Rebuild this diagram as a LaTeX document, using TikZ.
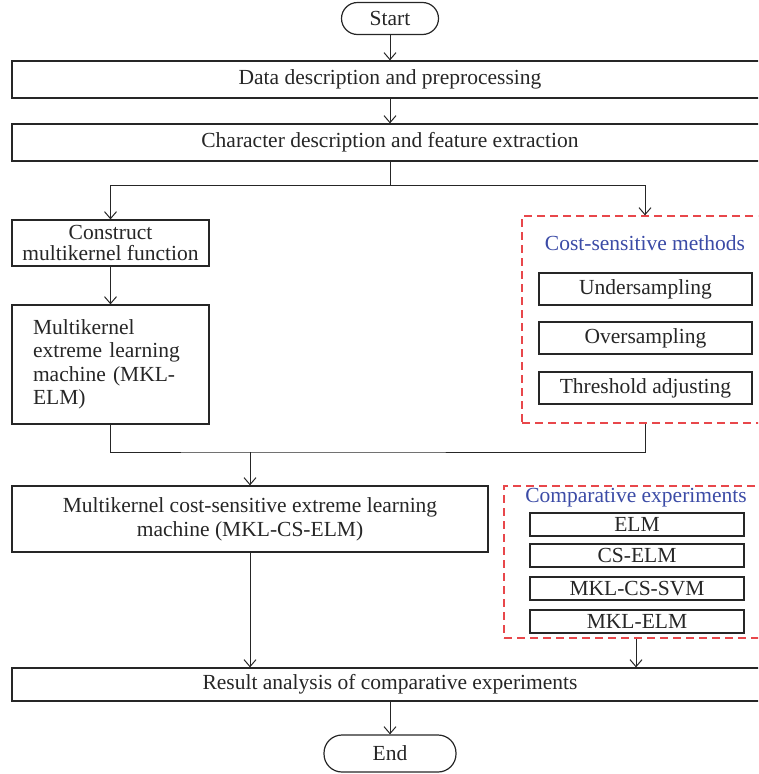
\documentclass[tikz,border=0pt]{standalone}
\usepackage{fontspec}
\setmainfont{Liberation Serif}
\usetikzlibrary{arrows.meta}
\definecolor{lc}{HTML}{262626}
\definecolor{dred}{HTML}{E8474B}
\definecolor{tblue}{HTML}{3B4BA6}
\begin{document}
\begin{tikzpicture}[x=1pt,y=-1pt,
  every node/.style={font=\fontsize{21.5}{23.5}\selectfont, text=lc, inner sep=0pt},
  box/.style={draw=lc, line width=1.2pt, rectangle},
  pill/.style={box, rounded corners=16pt},
  dbox/.style={draw=dred, dash pattern=on 8pt off 5pt, line width=1.2pt, rectangle},
  ttl/.style={text=tblue},
  arr/.style={draw=lc, line width=1pt, -{Straight Barb[length=7pt,width=12pt]}},
  ln/.style={draw=lc, line width=1pt}]
\useasboundingbox (0,0) rectangle (758,774);
\clip (0,0) rectangle (758,774);

\node[pill, minimum width=97pt, minimum height=32pt] (start) at (390,18.5) {Start};
\node[box, minimum width=756pt, minimum height=37pt] (data) at (390,79.5) {Data description and preprocessing};
\node[box, minimum width=756pt, minimum height=37pt] (char) at (390,142.5) {Character description and feature extraction};

\node[box, minimum width=197pt, minimum height=46pt, align=center, font=\fontsize{21.5}{21}\selectfont] (construct) at (110.5,243) {Construct\\multikernel function};
\node[box, minimum width=197pt, minimum height=119pt, text width=155pt, align=left] (mklelm) at (110.5,364.5) {Multikernel\\extreme learning\\machine (MKL-\\ELM)};

\node[dbox, minimum width=246pt, minimum height=207pt] (cs) at (645,319.5) {};
\node[ttl] (cstitle) at (645,243) {Cost-sensitive methods};
\node[box, minimum width=213pt, minimum height=32pt] (under) at (645.5,289) {Undersampling};
\node[box, minimum width=213pt, minimum height=32pt] (over) at (645.5,338) {Oversampling};
\node[box, minimum width=213pt, minimum height=32pt] (thresh) at (645.5,388) {Threshold adjusting};

\node[box, minimum width=476pt, minimum height=66pt, align=center, font=\fontsize{21.5}{24}\selectfont] (mklcs) at (250,519) {Multikernel cost-sensitive extreme learning\\machine (MKL-CS-ELM)};

\node[dbox, minimum width=264pt, minimum height=152pt] (cmp) at (636,562) {};
\node[ttl] (cmptitle) at (636,498) {Comparative experiments};
\node[box, minimum width=214pt, minimum height=23pt] (elm) at (637,524.5) {ELM};
\node[box, minimum width=214pt, minimum height=23pt] (cselm) at (637,555.5) {CS-ELM};
\node[box, minimum width=214pt, minimum height=23pt] (svm) at (637,588.5) {MKL-CS-SVM};
\node[box, minimum width=214pt, minimum height=23pt] (mklelmb) at (637,621.5) {MKL-ELM};

\node[box, minimum width=756pt, minimum height=33pt] (result) at (390,684.5) {Result analysis of comparative experiments};
\node[pill, rounded corners=18pt, minimum width=132pt, minimum height=37pt] (end) at (390,753.5) {End};

\coordinate (split) at (390,185);
\coordinate (join) at (250,452);

\draw[arr] (start) -- (data);
\draw[arr] (data) -- (char);
\draw[ln] (char.south) -- (split);
\draw[arr] (split) -| (construct.north);
\draw[arr] (split) -| (cs.north);
\draw[arr] (construct) -- (mklelm);
\draw[ln] (mklelm.south) |- (join) -| (cs.south);
\draw[arr] (join) -- (mklcs.north);
\draw[arr] (mklcs.south) -- (mklcs.south |- result.north);
\draw[arr] (cmp.south) -- (cmp.south |- result.north);
\draw[arr] (result) -- (end);
\end{tikzpicture}
\end{document}
